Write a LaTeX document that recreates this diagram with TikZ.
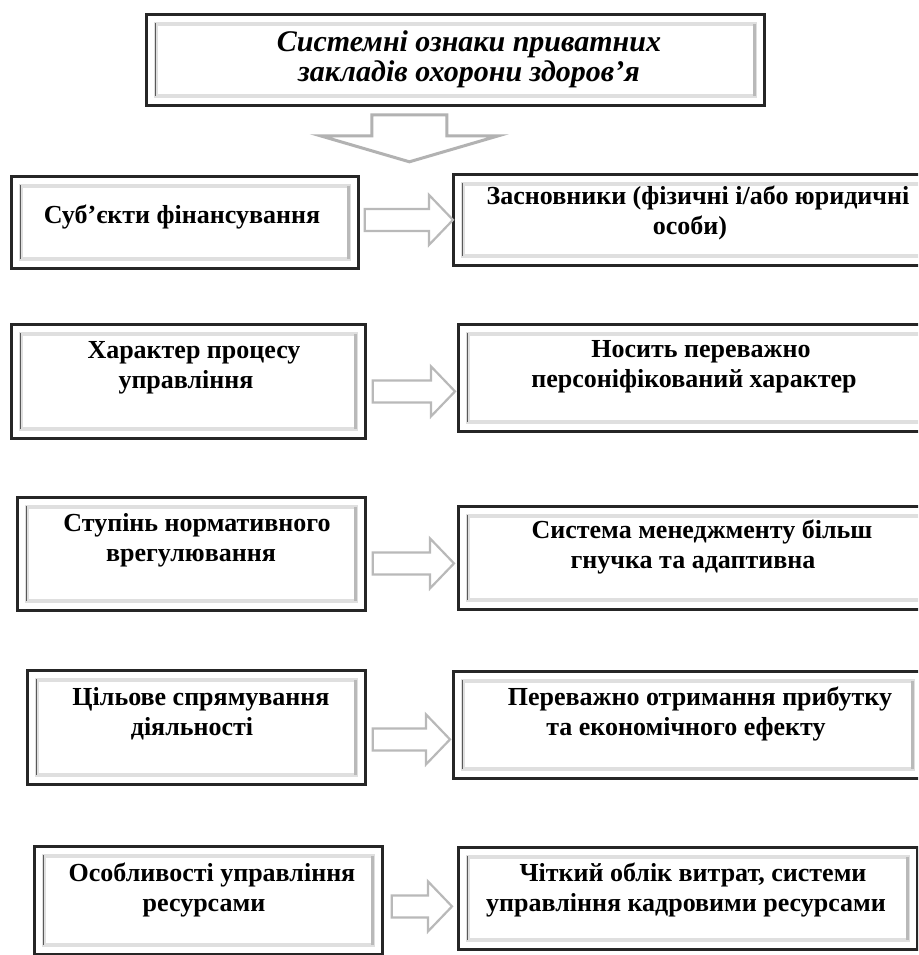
\documentclass[tikz,border=0pt]{standalone}
\usepackage{fontspec}
\setmainfont{Liberation Serif}
\usetikzlibrary{calc}
\tikzset{
  framebox/.style={draw=black!85, line width=2.8pt, fill=white, inner sep=0pt, anchor=north west,
    path picture={
      \draw[gray!25, line width=3.5pt]
        ([shift={(9.5pt,-9.5pt)}]path picture bounding box.north west) rectangle
        ([shift={(-9.5pt,9.5pt)}]path picture bounding box.south east);
      \draw[gray!55, line width=3pt]
        ([shift={(-9.5pt,-9.5pt)}]path picture bounding box.north east) --
        ([shift={(-9.5pt,9.5pt)}]path picture bounding box.south east);
      \draw[black!65, line width=1.6pt]
        ([shift={(9pt,-9pt)}]path picture bounding box.north west) --
        ([shift={(9pt,9pt)}]path picture bounding box.south west);
    }},
  lbl/.style={font=\fontsize{26}{30}\selectfont\bfseries, align=center, inner sep=0pt},
  ttl/.style={font=\fontsize{30}{30}\selectfont\bfseries\itshape, align=center, inner sep=0pt},
  blockarr/.style={draw=gray!55, line width=2.2pt, fill=white, line join=miter},
  downarr/.style={draw=gray!60, line width=3pt, fill=white, line join=miter},
}
\newcommand{\myblockarrow}[5]{%
  \draw[blockarr] let \p1=([xshift=#3pt]#1.east), \p2=([xshift=#5pt,yshift=#4pt]#2.west) in
    (\x1,\y2+11pt) -- (\x2-24pt,\y2+11pt) -- (\x2-24pt,\y2+25pt) -- (\x2,\y2) --
    (\x2-24pt,\y2-25pt) -- (\x2-24pt,\y2-11pt) -- (\x1,\y2-11pt) -- cycle;}
\begin{document}
\begin{tikzpicture}[x=1pt,y=-1pt]
\useasboundingbox (0,0) rectangle (918,955);
\clip (0,0) rectangle (918,955);
\fill[white] (0,0) rectangle (918,955);

% title
\node[framebox, minimum width=618pt, minimum height=91pt] (T) at (145,13) {};
\node[ttl] (Tt) at (469,59) {Системні ознаки приватних\\закладів охорони здоров’я};
\draw[downarr] let \p1=([xshift=-46pt,yshift=-8pt]T.south) in
  (\x1-37.5pt,\y1) -- (\x1+37.5pt,\y1) -- (\x1+37.5pt,\y1-21pt) -- (\x1+89pt,\y1-21pt) --
  (\x1,\y1-47pt) -- (\x1-89pt,\y1-21pt) -- (\x1-37.5pt,\y1-21pt) -- cycle;

% left boxes
\node[framebox, minimum width=347pt, minimum height=92pt]  (L1) at (10,175) {};
\node[framebox, minimum width=354pt, minimum height=114pt] (L2) at (10,323) {};
\node[framebox, minimum width=348pt, minimum height=113pt] (L3) at (16,496) {};
\node[framebox, minimum width=338pt, minimum height=114pt] (L4) at (26,669) {};
\node[framebox, minimum width=348pt, minimum height=108pt] (L5) at (33,845) {};

% right boxes
\node[framebox, minimum width=493pt, minimum height=91pt]  (R1) at (452,173) {};
\node[framebox, minimum width=480pt, minimum height=107pt] (R2) at (457,323) {};
\node[framebox, minimum width=488pt, minimum height=103pt] (R3) at (457,505) {};
\node[framebox, minimum width=469pt, minimum height=107pt] (R4) at (452,670) {};
\node[framebox, minimum width=459pt, minimum height=102pt] (R5) at (457,846) {};

% texts
\node[lbl] (L1t) at (182,217) {Суб’єкти фінансування};
\node[lbl] (L2t) at (186,368) {\hspace*{16pt}Характер процесу\\управління};
\node[lbl] (L3t) at (191,540) {\hspace*{12pt}Ступінь нормативного\\врегулювання};
\node[lbl] (L4t) at (192,714) {\hspace*{18pt}Цільове спрямування\\діяльності};
\node[lbl] (L5t) at (204,890) {\hspace*{16pt}Особливості управління\\ресурсами};

\node[lbl] (R1t) at (690,213) {\hspace*{16pt}Засновники (фізичні і/або юридичні\\особи)};
\node[lbl] (R2t) at (694,367) {\hspace*{14pt}Носить переважно\\персоніфікований характер};
\node[lbl] (R3t) at (693,547) {\hspace*{18pt}Система менеджменту більш\\гнучка та адаптивна};
\node[lbl] (R4t) at (686,714) {\hspace*{28pt}Переважно отримання прибутку\\та економічного ефекту};
\node[lbl] (R5t) at (686,890) {\hspace*{14pt}Чіткий облік витрат, системи\\управління кадровими ресурсами};

% arrows
\myblockarrow{L1}{R1}{5}{0}{1}
\myblockarrow{L2}{R2}{6}{-13.5}{-2}
\myblockarrow{L3}{R3}{6}{-5.5}{-3}
\myblockarrow{L4}{R4}{6}{-14.5}{-2}
\myblockarrow{L5}{R5}{8}{-8}{-5}
\end{tikzpicture}
\end{document}
